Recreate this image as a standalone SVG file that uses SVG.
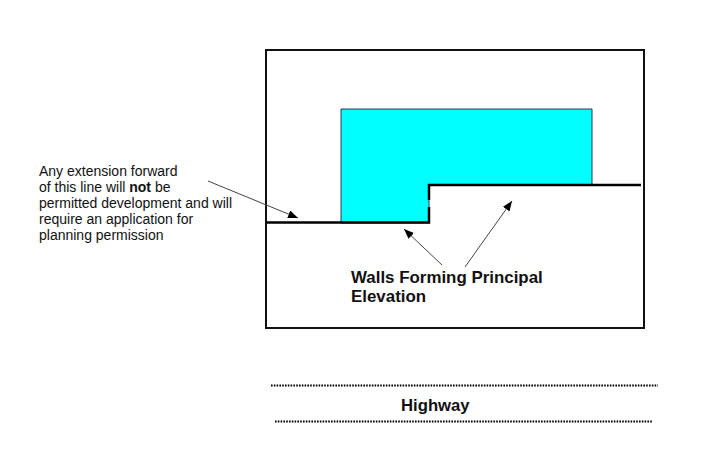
<svg xmlns="http://www.w3.org/2000/svg" width="720" height="455" viewBox="0 0 720 455">
<defs><marker id="a" markerWidth="12" markerHeight="10" refX="10" refY="4" orient="auto" markerUnits="userSpaceOnUse"><path d="M0 0L10 4L0 8Z" fill="#000"/></marker></defs>
<style>text{font-family:"Liberation Sans",Arial,sans-serif;fill:#111}.s{font-size:14px}.b{font-size:16.7px;font-weight:bold}.w{font-size:16.9px;font-weight:bold}.t{fill:none;stroke:#000;stroke-width:2.5}.d{fill:none;stroke:#000;stroke-width:2;stroke-dasharray:1.6 1.2}.l{fill:none;stroke:#444;stroke-width:1;marker-end:url(#a)}</style>
<rect width="720" height="455" fill="#fff"/>
<g id="plot"><rect x="266" y="50" width="378" height="278" fill="#fff" stroke="#111" stroke-width="2"/></g>
<g id="building"><path d="M341 109H592V185H429V223H341Z" fill="#0ff" stroke="#335" stroke-width="1"/></g>
<g id="walls"><path class="t" d="M266 222.500H429V207M429 200V185H641"/></g>
<g id="connectors"><path class="l" d="M208 181L298 218"/><path class="l" d="M442 265L404 229"/><path class="l" d="M465 267L512 201"/></g>
<g id="note"><text class="s" x="39" y="176">Any extension forward</text><text class="s" x="39" y="192">of this line will <tspan font-weight="bold">not</tspan> be</text><text class="s" x="39" y="208">permitted development and will</text><text class="s" x="39" y="224">require an application for</text><text class="s" x="39" y="239.500">planning permission</text></g>
<g id="label"><text class="w" x="351" y="283">Walls Forming Principal</text><text class="w" x="351" y="302">Elevation</text></g>
<g id="highway"><path class="d" d="M271 385.500H658"/><path class="d" d="M275 421.500H653"/><text class="b" x="401" y="411">Highway</text></g>
</svg>
